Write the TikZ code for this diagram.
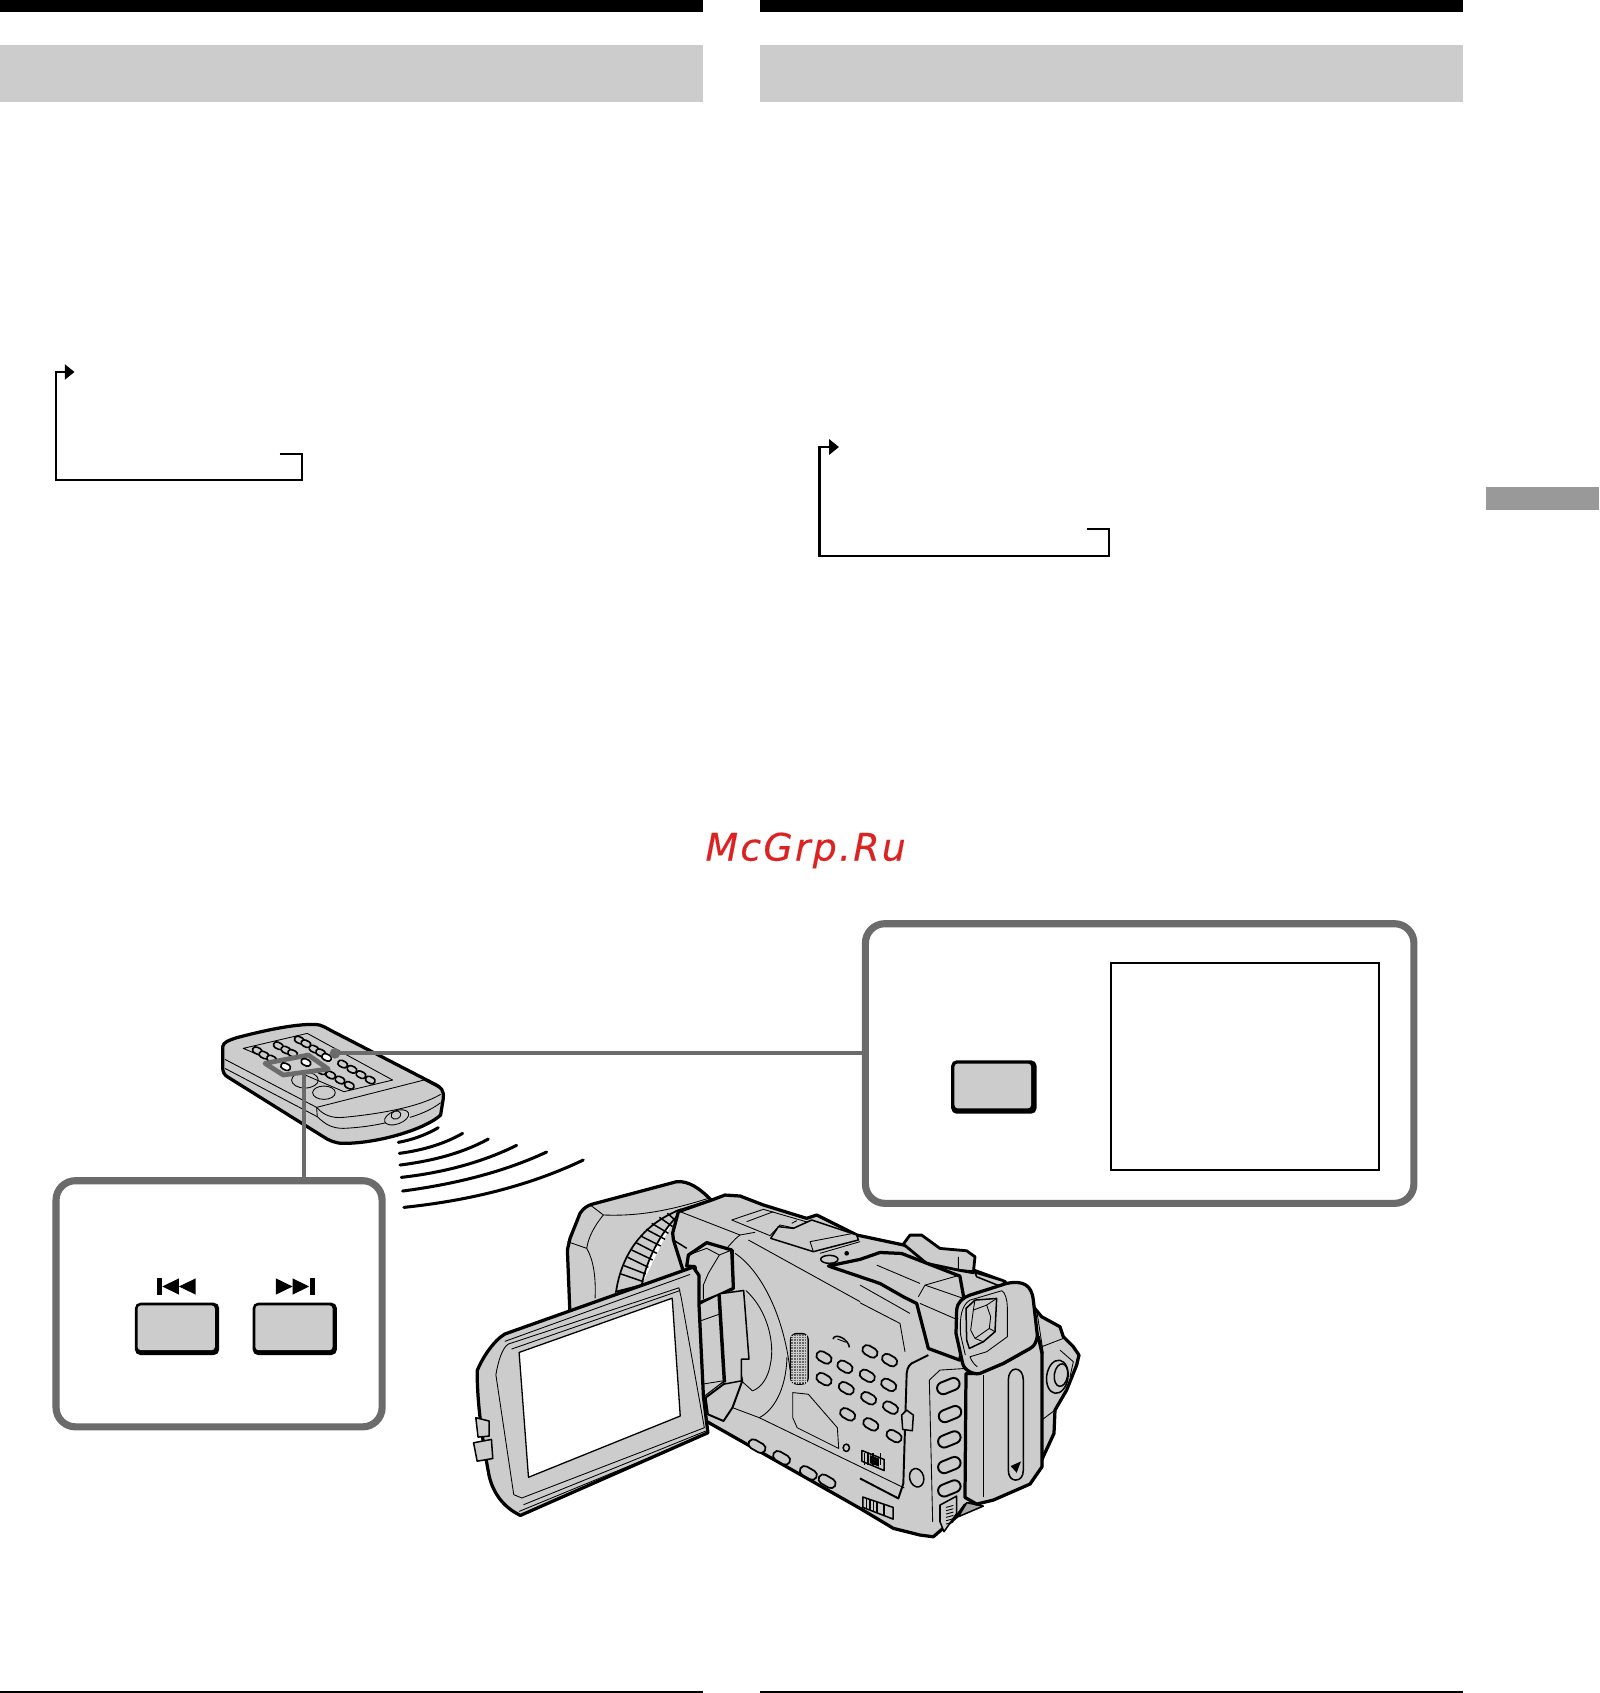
\documentclass[tikz,border=0pt]{standalone}
\usepackage{fontspec}
\newfontfamily\wmfont[LetterSpace=6,FakeBold=.3]{DejaVu Sans}
\usetikzlibrary{arrows.meta,shapes.misc,calc}
\definecolor{pg}{HTML}{CCCCCC}
\definecolor{tabg}{HTML}{999999}
\definecolor{callg}{HTML}{6B6B6B}
\definecolor{wm}{HTML}{DD2222}
\tikzset{
  flowline/.style={draw=black,line width=1pt,-{Triangle[length=4.5pt,width=7pt]}},
  panelbox/.style={draw=callg,fill=white,line width=3.3pt,rounded corners=9pt,inner sep=0pt},
  callout/.style={draw=callg,line width=1.9pt},
  keyouter/.style={fill=black,rounded corners=2.5pt},
  keyinner/.style={fill=pg,rounded corners=1.5pt},
  body/.style={fill=pg,draw=black,line width=1.5pt,line join=round},
  thin/.style={draw=black,line width=.4pt,line join=round},
  mid/.style={draw=black,line width=.7pt,line join=round},
  facekey/.style={rounded rectangle,fill=pg,draw=black,line width=.8pt,inner sep=0pt,minimum width=7.5pt,minimum height=4.4pt},
  gripkey/.style={rounded rectangle,fill=pg,draw=black,line width=.9pt,inner sep=0pt,minimum width=10.8pt,minimum height=5.6pt,rotate=22},
  remkey/.style={rounded rectangle,fill=pg,draw=black,line width=.75pt,inner sep=0pt,minimum width=4.6pt,minimum height=2.9pt,rotate=-25},
  remwhite/.style={remkey,fill=white},
  wave/.style={draw=black,line width=1.4pt,line cap=round},
}
\begin{document}
\begin{tikzpicture}[x=.5pt,y=-.5pt]
\useasboundingbox (0,0) rectangle (1481,1568);
\fill[white] (0,0) rectangle (1481,1568);
% page furniture
\fill[black] (0,0) rectangle (651,11);
\fill[black] (704,0) rectangle (1355,11);
\fill[pg] (0,42) rectangle (651,94.5);
\fill[pg] (704,42) rectangle (1355,94.5);
\fill[tabg] (1376,451) rectangle (1481,472);
\fill[black] (0,1566.5) rectangle (651,1568);
\fill[black] (704,1566.5) rectangle (1355,1568);
% flow arrows
\coordinate (la) at (259,420.5); \coordinate (lb) at (280,444.5); \coordinate (lc) at (52,344.5); \coordinate (ld) at (69,344.5);
\draw[flowline] (la) -| (lb) -| (lc) -- (ld);
\coordinate (ra) at (1007,490); \coordinate (rb) at (1027,515); \coordinate (rc) at (759,414); \coordinate (rd) at (777,414);
\draw[flowline] (ra) -| (rb) -| (rc) -- (rd);
% watermark
\node[anchor=base west,inner sep=0pt,text=wm,font=\wmfont\itshape\fontsize{17.5}{20}\selectfont] (mark) at (653,797) {McGrp.Ru};
% remote
\begin{scope}[shift={(185.2,926.2)},xscale=.3087,yscale=.3087]
\draw[body] (68,140) .. controls (70,125) and (90,120) .. (110,113) .. controls (190,92) and (280,72) .. (345,73)
  .. controls (365,73) and (380,85) .. (400,95) -- (700,250) .. controls (725,262) and (732,270) .. (730,295)
  -- (722,345) .. controls (680,385) and (540,430) .. (430,430) .. controls (405,430) and (385,420) .. (370,410)
  -- (85,232) .. controls (72,225) and (68,215) .. (68,200) -- cycle;
\draw[thin] (75,178) -- (350,322) -- (672,240) (672,240) -- (725,268);
\draw[thin] (350,322) .. controls (370,345) and (395,355) .. (430,352) .. controls (540,342) and (660,320) .. (722,283);
\draw[thin] (75,205) -- (352,350) .. controls (375,372) and (395,385) .. (430,385) .. controls (480,383) and (530,375) .. (558,368);
\draw[thin] (630,352) .. controls (670,340) and (700,325) .. (722,308);
\draw[thin] (350,322) -- (352,350);
\draw[thin] (590,352) ellipse [x radius=38,y radius=20,rotate=20];
\draw[thin] (588,345) ellipse [x radius=15,y radius=12,rotate=20];
\draw[thin] (130,145) -- (322,100) -- (578,240) -- (432,275) -- cycle;
\draw[thin] (372,278) ellipse [x radius=34,y radius=20];
\draw[thin] (315,240) ellipse [x radius=40,y radius=24];
\foreach \p [count=\n] in {(298,120),(318,131),(342,147),(362,158),(235,137),(258,150),(278,160),(172,152),(192,165),(215,177),(428,192),(456,208),(483,224),(511,240),(365,212),(392,225),(420,240),(448,256)}
  \node[remkey] (rk\n) at \p {};
\draw[callout,fill=pg,line join=round,line width=2.2pt] (195,190) -- (325,165) -- (385,207) -- (250,225) -- cycle;
\foreach \p [count=\n] in {(257,200),(318,187),(380,172)}
  \node[remwhite] (rw\n) at \p {};
\coordinate (rmA) at (405,160);
\coordinate (rmB) at (312,222);
\fill[callg] (rmA) circle (16);
\foreach \a/\b/\c in {{595,427}/{660,415}/{715,383},{598,460}/{710,445}/{788,400},{600,495}/{760,475}/{865,417},{604,532}/{800,510}/{950,436},{608,573}/{860,540}/{1040,456},{612,622}/{920,590}/{1150,480}}
  \draw[wave] (\a) .. controls ($(\a)!.667!(\b)$) and ($(\c)!.667!(\b)$) .. (\c);
\end{scope}
% callout boxes
\node[panelbox,minimum width=151pt,minimum height=114pt,anchor=center] (pl) at (202.9,1207.5) {};
\node[panelbox,minimum width=254pt,minimum height=129.5pt,anchor=center] (pr) at (1055.5,985) {};
\draw[callout] (rmA) -- (rmA -| pr.west);
\draw[callout] (rmB) -- (rmB |- pl.north);
% keys in left box
\fill[keyouter] (125,1206.5) rectangle (203,1255);
\fill[keyinner] (127.5,1209) rectangle (199,1250.5);
\fill[keyouter] (234,1206.5) rectangle (312,1255);
\fill[keyinner] (236.5,1209) rectangle (308,1250.5);
\fill[black] (145.4,1184) rectangle (149.7,1199);
\fill[black] (150.3,1191.5) -- (165.7,1184) -- (165.7,1199) -- cycle;
\fill[black] (165.7,1191.5) -- (181.2,1184) -- (181.2,1199) -- cycle;
\fill[black] (255.6,1184) -- (271,1191.5) -- (255.6,1199) -- cycle;
\fill[black] (271,1184) -- (286.4,1191.5) -- (271,1199) -- cycle;
\fill[black] (287,1184) rectangle (291.4,1199);
% keys in right box
\fill[keyouter] (881,982) rectangle (960,1031.5);
\fill[keyinner] (884,985) rectangle (955,1026.5);
\node[draw=black,line width=.9pt,minimum width=124pt,minimum height=96pt,inner sep=0pt] (scr) at (1153,988) {};
% ------- camera: hood and ring
\begin{scope}[shift={(518.7,1083.6)},scale=.3087]
\draw[body] (30,440) -- (22,240) -- (30,205) -- (60,130) .. controls (70,115) and (80,108) .. (95,103) -- (350,35) .. controls (385,32) and (420,55) .. (455,92) -- (350,125) -- (250,200) -- (170,400) -- cycle;
\draw[thin] (92,106) -- (130,135) .. controls (250,140) and (350,115) .. (445,85);
\draw[thin] (130,135) .. controls (105,165) and (85,200) .. (80,235) -- (22,215);
\draw[thin] (80,235) .. controls (100,270) and (108,320) .. (105,385);
\fill[pg] (350,130) -- (245,345) -- (420,300) -- (380,235) -- (340,210) -- cycle;
\draw[fill=pg,draw=black,line width=.8pt] (358,120) .. controls (280,150) and (190,220) .. (168,365) -- (245,345) .. controls (260,270) and (300,190) .. (352,138) -- cycle;
\foreach \a/\b/\c/\d in {322/130/345/150,298/142/338/170,275/160/325/190,258/178/315/208,242/198/302/228,228/218/290/250,215/240/278/270,203/262/265/292,192/287/257/312,183/312/250/335}
  \draw[mid] (\a,\b) -- (\c,\d);
\end{scope}
% accessory at the right end
\begin{scope}[shift={(796.5,1130)},scale=.3087]
\draw[body] (520,260) -- (545,290) -- (600,320) -- (610,350) -- (640,380) -- (657,405) -- (650,435) -- (620,510) -- (585,570) -- (582,640) -- (545,720) -- (450,740) -- (450,300) -- cycle;
\draw[thin] (545,380) -- (610,355) (545,600) -- (585,570) (530,270) -- (550,400);
\draw[mid,fill=pg] (592,470) ellipse [x radius=32,y radius=50,rotate=-8];
\draw[mid,fill=pg] (603,465) ellipse [x radius=20,y radius=34,rotate=-8];
\draw[thin] (600,390) -- (640,425) -- (630,470);
\end{scope}
% main body
\draw[body] (628.3,1122.2) -- (659.2,1111.4) -- (671.5,1106.8) -- (685.4,1107.7) -- (707,1116) -- (747.1,1128.4) -- (756.4,1125.3) -- (793.4,1143.8) -- (836.6,1153) -- (901.5,1176.3) -- (930.8,1187) -- (963.2,1253.5) -- (964.7,1358.4) -- (954,1373.9) -- (893.7,1394) -- (886,1404.7) -- (864.4,1423.3) -- (852.1,1421.7) -- (827.4,1415.5) -- (796.5,1397) -- (653.6,1316) -- (640,1200) -- (623.7,1148.4) -- (623,1142) -- cycle;
% barrel, hinge top, shoe
\begin{scope}[shift={(518.7,1083.6)},scale=.3087]
\draw[mid] (352,130) -- (338,190) -- (340,210) -- (380,235);
\draw[thin] (360,125) -- (540,195);
\draw[thin] (540,195) .. controls (520,210) and (510,225) .. (500,235);
\draw[thin] (540,195) -- (585,187);
\draw[thin] (565,210) -- (900,395);
\draw[thin,fill=pg] (515,150) -- (610,118) -- (755,160) -- (730,180) -- (660,165) -- (630,197) -- cycle;
\draw[thin] (560,155) -- (640,125);
\draw[thin] (695,160) -- (710,152);
\draw[mid,fill=pg] (632,205) -- (655,170) -- (700,175) -- (755,150) -- (890,195) -- (895,210) -- (760,245) -- cycle;
\draw[thin] (750,215) -- (760,245) (750,215) -- (880,190) (780,250) -- (900,215);
\draw[mid,fill=pg] (808,268) ellipse [x radius=26,y radius=12];
\fill[black] (860,250) circle (7);
\draw[body] (380,288) -- (385,255) -- (440,218) -- (515,240) -- (520,355) -- (478,375) -- (415,400) -- (405,290) -- cycle;
\draw[thin] (385,255) -- (440,235) -- (478,255) -- (515,240) (478,255) -- (445,310) -- (430,345) -- (430,388);
\draw[thin] (520,240) -- (522,355);
\draw[thin] (525,250) .. controls (600,300) and (670,430) .. (690,600);
\end{scope}
% side panel, zoom coordinates
\begin{scope}[shift={(389,1065)},xscale=.4134,yscale=.31]
\draw[thin] (822,620) .. controls (820,720) and (790,780) .. (760,800);
\draw[thin] (730,420) .. controls (780,480) and (795,580) .. (785,640) .. controls (780,680) and (765,710) .. (745,720);
\draw[thin] (720,690) -- (745,720) (700,770) -- (760,800);
\draw[thin] (760,800) -- (1085,1010);
\draw[draw=black,line width=.5pt,fill=black!60,rounded corners=3pt] (830,548) rectangle (870,700);
\foreach \y in {556,564,...,696} \draw[pg,line width=.25pt] (832,\y) -- (868,\y);
\foreach \x in {836,842,...,866} \draw[pg,line width=.25pt] (\x,552) -- (\x,698);
\draw[mid,fill=pg] (925,565) .. controls (930,545) and (960,565) .. (962,590);
\draw[thin] (935,565) -- (955,575);
\foreach \p [count=\n] in {(1008,602),(1052,628),(905,620),(952,648),(1002,675),(1050,702),(905,685),(955,712),(1005,742),(1054,770),(958,790),(1010,820),(1062,855)}
  \node[facekey,rotate=-30] (fk\n) at \p {};
\draw[thin,fill=pg] (835,725) -- (870,730) -- (935,830) -- (938,892) -- (845,830) -- (835,800) -- cycle;
\draw[mid] (955,890) ellipse [x radius=7,y radius=11];
\draw[mid,fill=pg] (990,898) -- (1040,925) -- (1040,958) -- (990,930) -- cycle;
\fill[black] (1008,912) -- (1028,922) -- (1028,946) -- (1008,936) -- cycle;
\foreach \x in {996,1004,1015,1032} \draw[mid] (\x,906) -- (\x,940);
\foreach \p [count=\n] in {(755,885),(810,920),(870,965),(912,990)}
  \node[facekey,rotate=-30,minimum width=8.5pt] (bk\n) at \p {};
\draw[mid,fill=pg] (992,1037) -- (1060,1068) -- (1060,1103) -- (992,1068) -- cycle;
\foreach \x/\a/\b in {1000/1042/1072,1008/1045/1076,1016/1049/1080,1024/1052/1084,1040/1060/1092} \draw[mid] (\x,\a) -- (\x,\b);
\end{scope}
% right end: crop coordinates
\begin{scope}[shift={(796.5,1130)},scale=.3087]
% grip lines
\draw[draw=black,line width=.9pt,line join=round] (0,775) -- (115,835) -- (130,790) -- (140,460) .. controls (142,440) and (150,430) .. (165,425) -- (205,405);
\draw[thin] (208,480) -- (240,450) -- (318,445);
\draw[thin] (208,480) -- (218,905);
\foreach \p [count=\n] in {(265,498),(270,582),(268,658),(268,735),(268,805)}
  \node[gripkey] (gk\n) at \p {};
\draw[mid,fill=pg] (125,585) -- (140,570) -- (160,585) -- (157,632) -- (128,628) -- cycle;
\draw[mid] (170,773) ellipse [x radius=21,y radius=28,rotate=15];
\draw[mid,fill=pg] (240,855) -- (290,828) -- (290,880) -- (252,935) -- (240,905) -- cycle;
\foreach \y in {862,872,...,912} \draw[thin] (258,\y) -- (280,\y-6);
\draw[mid,fill=black!35] (295,890) -- (370,858) -- (320,848) -- cycle;
% battery
\draw[body] (318,460) -- (350,460) -- (430,430) -- (510,385) -- (535,350) -- (546,400) -- (546,740) -- (510,792) -- (400,840) -- (350,852) -- (315,832) -- cycle;
\draw[thin] (370,465) -- (370,830);
\draw[mid,fill=pg] (445,480) .. controls (445,460) and (455,447) .. (467,447) .. controls (480,447) and (490,460) .. (490,480) -- (490,750) .. controls (490,770) and (480,780) .. (467,780) .. controls (455,780) and (445,770) .. (445,750) -- cycle;
\fill[black] (452,738) -- (483,724) -- (470,758) -- cycle;
% dial
\draw[body,line width=1.3pt] (130,72) -- (150,45) -- (185,45) -- (240,85) -- (320,92) -- (345,110) -- (340,158) -- (295,150) -- (200,130) -- cycle;
\draw[thin] (295,110) -- (295,148) -- (340,152);
\draw[mid,fill=pg] (345,158) -- (435,185) -- (420,198) -- (350,170) -- cycle;
\end{scope}
% handle
\draw[body] (767.2,1172.5) -- (796.5,1166.4) -- (815,1160) -- (835,1160.9) -- (889,1181.9) -- (895,1215) -- (889,1259.7) -- (859.8,1248.9) -- (849,1207.2) -- (836.6,1201) -- (815,1188.7) -- cycle;
\begin{scope}[shift={(796.5,1130)},scale=.3087]
\draw[thin] (50,135) -- (180,190);
\draw[thin] (0,195) -- (150,280) (0,248) -- (120,310) -- (135,395);
\draw[thin] (175,230) -- (195,195) -- (300,165) (195,195) -- (310,235) (180,250) -- (295,300);
% eyecup
\draw[body] (288,340) -- (290,270) .. controls (292,245) and (310,232) .. (330,225) -- (440,190) .. controls (490,180) and (515,195) .. (520,240) -- (532,345) .. controls (530,370) and (520,380) .. (510,385) -- (430,430) -- (360,460) .. controls (340,465) and (312,450) .. (308,430) -- cycle;
\draw[thin] (302,345) .. controls (298,290) and (305,255) .. (330,240) -- (425,212) .. controls (435,215) and (442,240) .. (442,260) -- (442,350) -- (380,395) -- (330,410) .. controls (335,425) and (345,435) .. (352,440);
\draw[thin] (302,345) -- (316,405);
\draw[mid,fill=pg] (318,265) -- (345,240) -- (410,235) -- (405,335) -- (370,365) -- (328,385) -- (320,360) -- cycle;
\draw[thin,fill=pg] (340,270) -- (380,255) -- (392,290) -- (388,325) -- (345,355) -- (332,330) -- cycle;
\draw[thin] (345,240) -- (340,270) (410,235) -- (380,255) (405,335) -- (388,325) (370,365) -- (345,355);
\end{scope}
% hinge and LCD, zoom coordinates
\begin{scope}[shift={(389,1065)},xscale=.4134,yscale=.31]
\draw[body,line width=.9pt] (678,430) -- (722,690) -- (700,770) -- (680,810) -- (645,790) -- (640,740) -- (680,700) -- cycle;
\draw[mid,fill=pg] (670,430) -- (725,420) -- (737,625) -- (720,625) -- (720,690) -- (680,700) -- cycle;
\draw[body,line width=.5pt] (625,462) -- (670,432) -- (682,690) -- (635,738) -- cycle;
\draw[draw=black,line width=1.6pt] (670,432) -- (682,695);
\draw[thin] (630,510) -- (672,490) (632,700) -- (678,690);
\draw[body] (128,660) .. controls (140,620) and (165,570) .. (190,550) -- (612,350) -- (625,375) -- (625,462) -- (635,738) -- (645,845) -- (225,1092) .. controls (190,1070) and (165,1030) .. (155,975) .. controls (140,870) and (128,760) .. (128,660) -- cycle;
\draw[thin] (190,572) -- (605,372);
\draw[thin] (170,672) .. controls (175,630) and (185,590) .. (198,580) -- (580,412) -- (585,440) -- (637,830) -- (228,1040) -- (210,1030) -- (172,690) -- cycle;
\draw[thin] (205,595) -- (583,420);
\draw[thin,fill=white,line width=.6pt] (222,605) -- (565,443) -- (583,795) -- (243,978) -- cycle;
\draw[thin] (222,1080) -- (640,850);
\draw[thin] (232,1060) -- (640,840);
\draw[mid,fill=pg] (125,800) -- (155,810) -- (155,855) -- (130,858) -- cycle;
\draw[mid,fill=pg] (120,875) -- (160,865) -- (163,922) -- (128,930) -- cycle;
\end{scope}
\end{tikzpicture}
\end{document}
